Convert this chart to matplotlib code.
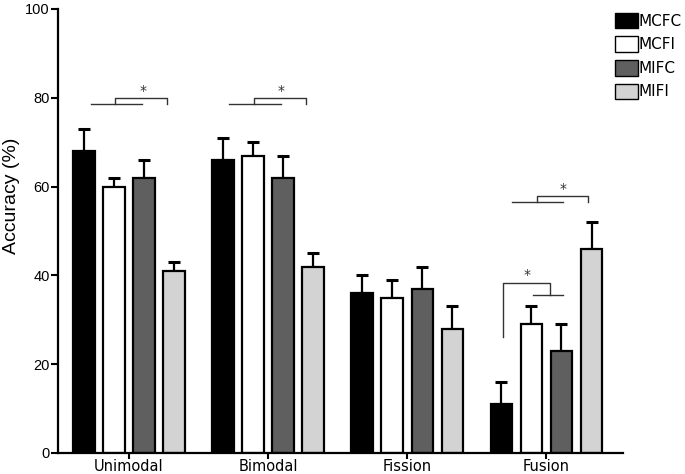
import numpy as np
import matplotlib
matplotlib.use("Agg")
import matplotlib.pyplot as plt
from matplotlib.patches import Patch

categories = ['Unimodal', 'Bimodal', 'Fission', 'Fusion']
series = ['MCFC', 'MCFI', 'MIFC', 'MIFI']
mcfc = [68, 66, 36, 11]
mcfi = [60, 67, 35, 29]
mifc = [62, 62, 37, 23]
mifi = [41, 42, 28, 46]
mcfc_err = [5, 5, 4, 5]
mcfi_err = [2, 3, 4, 4]
mifc_err = [4, 5, 5, 6]
mifi_err = [2, 3, 5, 6]
yticks = [0, 20, 40, 60, 80, 100]

values = [mcfc, mcfi, mifc, mifi]
errors = [mcfc_err, mcfi_err, mifc_err, mifi_err]
colors = ['#000000', '#ffffff', '#5f5f5f', '#d3d3d3']

fig = plt.figure(figsize=(6.85, 4.74), dpi=100)
ax = fig.add_axes([58/685, 21/474, (623-58)/685, (453-9)/474])

x = np.arange(len(categories))
step = 0.216
width = 0.155
offsets = (np.arange(4) - 1.5) * step
for i in range(4):
    xs = x + offsets[i]
    ax.bar(xs, values[i], width, color=colors[i], edgecolor='black',
           linewidth=1.6, zorder=2)
    ax.errorbar(xs, values[i], yerr=[np.zeros(4), errors[i]], fmt='none',
                ecolor='black', elinewidth=1.6, capsize=4.5, capthick=2.2,
                zorder=1)

# significance brackets
lc = '#333333'
lw = 1.0
def bracket(g, x_l, x_r, x_j, x_e, y_lo, y_hi, star_x, star_y):
    ax.plot([g + x_l, g + x_r], [y_lo, y_lo], color=lc, lw=lw, zorder=3)
    ax.plot([g + x_j, g + x_j, g + x_e, g + x_e], [y_lo, y_hi, y_hi, y_lo],
            color=lc, lw=lw, zorder=3)
    ax.text(g + star_x, star_y, '*', ha='center', va='center', fontsize=10,
            color='#333333')

bracket(0, -0.273, 0.094, -0.10, 0.273, 78.6, 80.0, 0.10, 81.5)
bracket(1, -0.28, 0.094, -0.10, 0.273, 78.6, 80.0, 0.094, 81.5)
bracket(3, -0.245, 0.122, -0.065, 0.30, 56.5, 57.9, 0.122, 59.4)
g = 3
ax.plot([g - 0.31, g - 0.31, g + 0.029, g + 0.029], [26.1, 38.3, 38.3, 35.6],
        color=lc, lw=lw, zorder=3)
ax.plot([g - 0.10, g + 0.122], [35.6, 35.6], color=lc, lw=lw, zorder=3)
ax.text(g - 0.14, 40.2, '*', ha='center', va='center', fontsize=10, color='#333333')

ax.set_xlim(-0.51, 3.55)
ax.set_ylim(0, 100)
ax.set_yticks(yticks)
ax.set_yticklabels([str(t) for t in yticks], family='Liberation Sans',
                   fontsize=10.5)
ax.set_xticks(x)
ax.set_xticklabels(categories, family='DejaVu Sans', fontsize=10.5)
ax.tick_params(axis='both', direction='out', length=5, width=1.5, pad=1)
ax.tick_params(axis='x', length=4, pad=0.5)
for s in ['top', 'right']:
    ax.spines[s].set_visible(False)
for s in ['left', 'bottom']:
    ax.spines[s].set_linewidth(1.6)

ax.set_ylabel('Accuracy (%)', family='Liberation Sans', fontsize=14)
ax.yaxis.set_label_coords(-0.067, 0.58)

handles = [Patch(facecolor=c, edgecolor='black', linewidth=1.0) for c in colors]
fig.legend(handles, series, loc='upper left', bbox_to_anchor=(607/685, 1 - 5/474),
           frameon=False, borderpad=0, handlelength=1.5, handleheight=1.2,
           handletextpad=0.08, labelspacing=0.5,
           prop={'family': 'DejaVu Sans', 'size': 11})

fig.savefig('out.png', dpi=100)
